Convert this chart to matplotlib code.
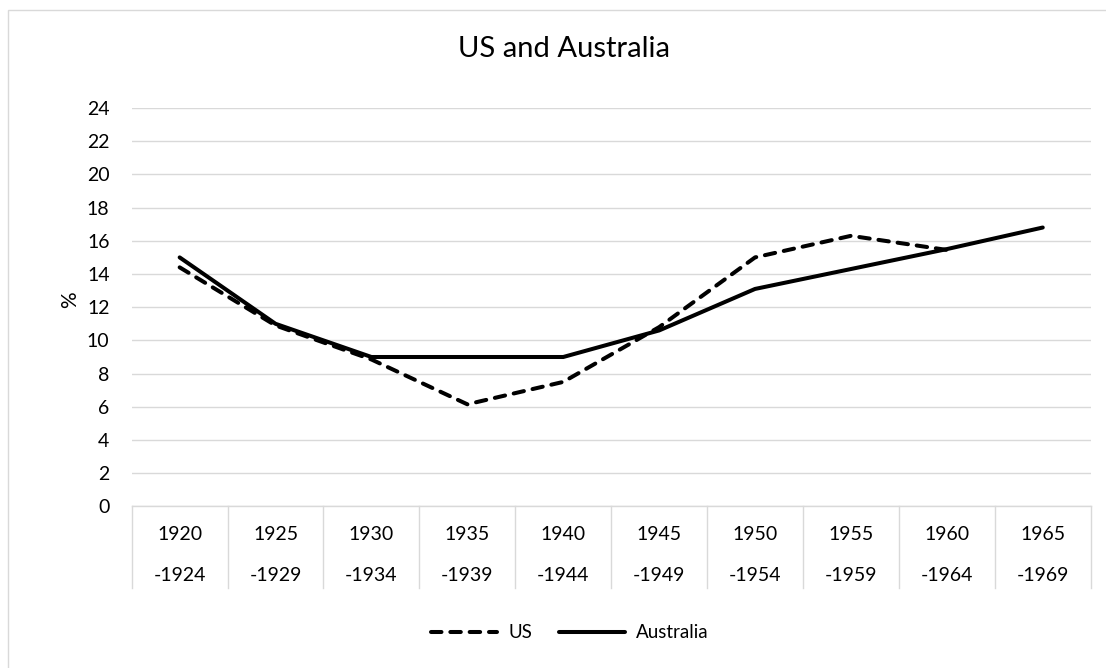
import numpy as np
import matplotlib
matplotlib.use("Agg")
import matplotlib.pyplot as plt
from matplotlib.lines import Line2D
from matplotlib.patches import Rectangle
import matplotlib.transforms as mtransforms

plt.rcParams['font.family'] = ['Lato', 'DejaVu Sans']

start_years = ["1920", "1925", "1930", "1935", "1940", "1945", "1950", "1955", "1960", "1965"]
end_years = ["-1924", "-1929", "-1934", "-1939", "-1944", "-1949", "-1954", "-1959", "-1964", "-1969"]
us = [14.4, 10.9, 8.85, 6.15, 7.5, 10.8, 15.0, 16.3, 15.45, np.nan]
australia = [15.0, 11.0, 9.0, 9.0, 9.0, 10.6, 13.1, 14.3, 15.5, 16.8]
yticks = list(range(0, 25, 2))

W, H = 1106, 668
fig = plt.figure(figsize=(W / 100, H / 100), dpi=100)
fig.patch.set_facecolor("white")

# outer chart border (partially cropped)
fig.patches.append(Rectangle((8 / W, -0.1), 1.2, 1 - 10 / H + 0.1, transform=fig.transFigure,
                             fill=False, edgecolor="#d9d9d9", linewidth=1.0))

left, right = 131.7 / W, 1090.7 / W
bottom, top = 1 - 506.4 / H, 1 - 108 / H
ax = fig.add_axes([left, bottom, right - left, top - bottom])

x = np.arange(len(start_years))
lw = 2.9
ax.plot(x, us, color="black", linewidth=lw, linestyle=(0, (2.6, 2.2)),
        dash_capstyle="round", solid_capstyle="round", label="US", zorder=3)
ax.plot(x, australia, color="black", linewidth=lw, solid_capstyle="round",
        solid_joinstyle="round", label="Australia", zorder=4)

fs = 14
ax.set_xlim(-0.5, len(start_years) - 0.5)
ax.set_ylim(0, 24)
ax.set_yticks(yticks)
ax.set_yticklabels([str(v) for v in yticks], fontsize=fs, color="#000000")
ax.tick_params(axis="y", length=0, pad=16)
ax.set_xticks([])
for s in ["top", "right", "left"]:
    ax.spines[s].set_visible(False)
ax.spines["bottom"].set_color("#d9d9d9")
ax.spines["bottom"].set_linewidth(1.0)
ax.grid(axis="y", color="#d9d9d9", linewidth=1.0)
ax.set_axisbelow(True)

# category table below axis
trans = mtransforms.blended_transform_factory(ax.transData, ax.transAxes)
axh = 506.4 - 108
ybot = -(588 - 506.4) / axh
for b in np.arange(-0.5, len(start_years), 1.0):
    ax.add_line(Line2D([b, b], [0, ybot], transform=trans, color="#d9d9d9",
                       linewidth=1.0, clip_on=False))
for i in range(len(start_years)):
    ax.text(x[i], -(534 - 506.4) / axh, start_years[i], transform=trans,
            ha="center", va="center", fontsize=fs)
    ax.text(x[i], -(575.7 - 506.4) / axh, end_years[i], transform=trans,
            ha="center", va="center", fontsize=fs)

fig.text(70 / W, 1 - 300 / H, "%", rotation=90, ha="center", va="center", fontsize=15)
fig.text(564 / W, 1 - 49 / H, "US and Australia", ha="center", va="center", fontsize=21)

handles = [Line2D([0], [0], color="black", linewidth=lw, linestyle=(0, (2.6, 2.2)), dash_capstyle="round"),
           Line2D([0], [0], color="black", linewidth=lw, solid_capstyle="round")]
fig.legend(handles, ["US", "Australia"], loc="center", bbox_to_anchor=(570 / W, 1 - 633 / H),
           ncol=2, frameon=False, fontsize=13.5, handlelength=3.5, handletextpad=0.6,
           columnspacing=1.45)

fig.savefig("out.png", dpi=100, facecolor="white")
